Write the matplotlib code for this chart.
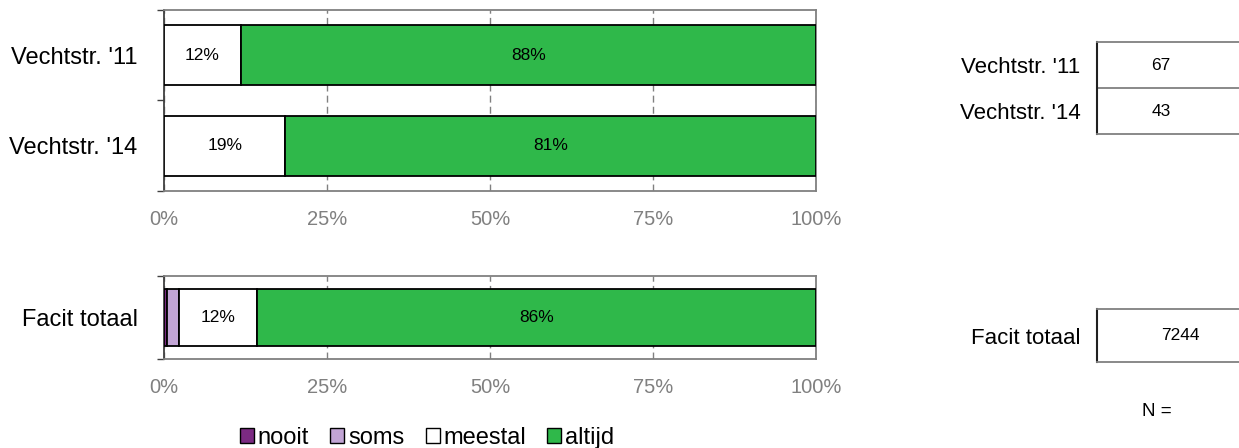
import matplotlib.pyplot as plt
import numpy as np
from matplotlib.patches import Patch

plt.rcParams['font.family'] = ['Liberation Sans', 'DejaVu Sans']

# --- Data ---
categories = ['nooit', 'soms', 'meestal', 'altijd']
colors = ['#7B2A82', '#C2A5D5', '#FFFFFF', '#2FB84A']

top_labels = ["Vechtstr. '11", "Vechtstr. '14"]
top_values = [
    [0.0, 0.0, 11.8, 88.2],
    [0.0, 0.0, 18.6, 81.4],
]
top_n = [67, 43]

bottom_labels = ["Facit totaal"]
bottom_values = [
    [0.5, 1.8, 12.0, 85.7],
]
bottom_n = [7244]

grid_gray = '#808080'


def draw_bars(ax, labels, values, height):
    vals = np.array(values)
    ypos = np.arange(len(labels))[::-1]
    left = np.zeros(len(labels))
    for j in range(vals.shape[1]):
        w = vals[:, j]
        ax.barh(ypos, w, left=left, height=height, color=colors[j],
                edgecolor='black', linewidth=1.3, zorder=3)
        for y, l, v in zip(ypos, left, w):
            if v >= 5:
                ax.text(l + v / 2, y, f"{v:.0f}%", ha='center', va='center',
                        fontsize=12.5, zorder=4)
        left = left + w
    ax.set_xlim(0, 100)
    ax.set_ylim(-0.5, len(labels) - 0.5)
    ax.set_yticks(ypos)
    ax.set_yticklabels(labels, fontsize=17)
    ax.set_yticks(np.arange(len(labels) + 1) - 0.5, minor=True)
    ax.tick_params(axis='y', which='major', length=0, pad=19)
    ax.tick_params(axis='y', which='minor', length=5, width=1, color='#404040')
    ax.set_xticks([0, 25, 50, 75, 100])
    ax.set_xticklabels(['0%', '25%', '50%', '75%', '100%'], fontsize=14.5,
                       color=grid_gray)
    ax.tick_params(axis='x', length=0, pad=14)
    ax.grid(axis='x', color=grid_gray, linestyle=(0, (5, 3)), linewidth=1,
            zorder=0)
    for s in ['top', 'right', 'bottom']:
        ax.spines[s].set_color(grid_gray)
        ax.spines[s].set_linewidth(1.3)
    ax.spines['left'].set_color('#404040')
    ax.spines['left'].set_linewidth(1.3)


def draw_table(ax, labels, ns, xtext):
    ypos = np.arange(len(labels))[::-1]
    ax.set_xlim(0, 1)
    ax.set_ylim(-0.5, len(labels) - 0.5)
    for y in np.arange(1, len(labels)) - 0.5:
        ax.axhline(y, color=grid_gray, linewidth=1.3)
    for y, n in zip(ypos, ns):
        ax.text(xtext, y, str(n), ha='center', va='center', fontsize=12.5)
    ax.set_yticks(ypos)
    ax.set_yticklabels(labels, fontsize=16)
    ax.tick_params(axis='y', length=0, pad=12)
    ax.set_xticks([])
    ax.spines['right'].set_visible(False)
    for s in ['top', 'bottom']:
        ax.spines[s].set_color(grid_gray)
        ax.spines[s].set_linewidth(1.3)
    ax.spines['left'].set_color('#202020')
    ax.spines['left'].set_linewidth(1.5)


W, H = 1239, 448
fig = plt.figure(figsize=(W / 100, H / 100), dpi=100)

ax1 = fig.add_axes([164 / W, 1 - 191 / H, 652 / W, 181 / H])
draw_bars(ax1, top_labels, top_values, 0.66)

ax2 = fig.add_axes([164 / W, 1 - 359 / H, 652 / W, 83 / H])
draw_bars(ax2, bottom_labels, bottom_values, 0.69)

tw = 180
ax3 = fig.add_axes([1097 / W, 1 - 134 / H, tw / W, 92 / H])
draw_table(ax3, top_labels, top_n, 64 / tw)

ax4 = fig.add_axes([1097 / W, 1 - 362 / H, tw / W, 53 / H])
draw_table(ax4, bottom_labels, bottom_n, 83 / tw)

fig.text(1142 / W, 1 - 411 / H, 'N =', ha='left', va='center', fontsize=13.5)

handles = [Patch(facecolor=c, edgecolor='black', linewidth=1) for c in colors]
fig.legend(handles, categories, loc='center', bbox_to_anchor=(427 / W, 1 - 438 / H),
           ncol=4, frameon=False, fontsize=17, handlelength=0.6, handleheight=0.6,
           handletextpad=0.15, columnspacing=0.9, borderpad=0)

fig.savefig('out.png', dpi=100)
